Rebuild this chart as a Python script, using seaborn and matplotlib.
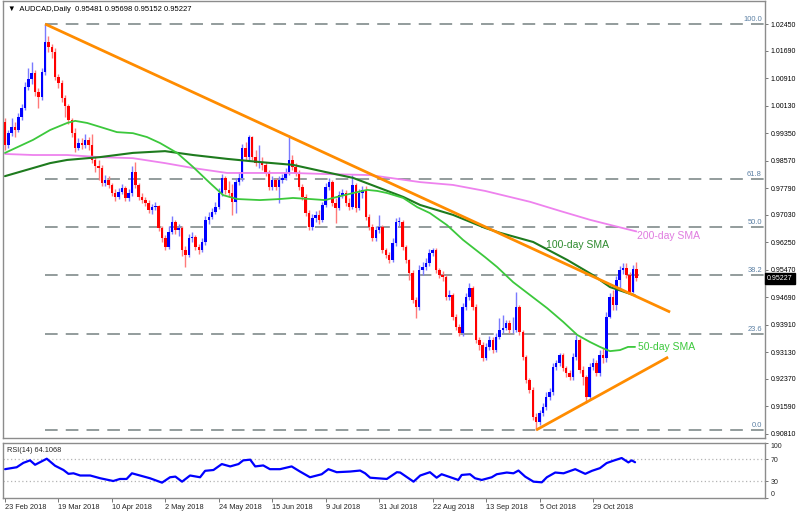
import numpy as np
import pandas as pd
import matplotlib
matplotlib.use("Agg")
import matplotlib.pyplot as plt
import matplotlib.transforms as mtransforms
import seaborn as sns

# ---------------- data ----------------
first_open = 0.9967
closes = [
    0.9901, 0.9935, 0.9953, 0.9944, 0.9981, 1.0006, 1.0066, 1.0089, 1.0106, 1.0052,
    1.0038, 1.0109, 1.0194, 1.0180, 1.0166, 1.0095, 1.0077, 1.0035, 1.0012, 0.9972,
    0.9935, 0.9893, 0.9907, 0.9901, 0.9916, 0.9901, 0.9859, 0.9842, 0.9836, 0.9793,
    0.9802, 0.9788, 0.9765, 0.9754, 0.9768, 0.9779, 0.9751, 0.9765, 0.9825, 0.9788,
    0.9754, 0.9745, 0.9737, 0.9717, 0.9725, 0.9728, 0.9666, 0.9637, 0.9612, 0.9654,
    0.9683, 0.9660, 0.9666, 0.9603, 0.9589, 0.9637, 0.9640, 0.9612, 0.9603, 0.9626,
    0.9688, 0.9697, 0.9711, 0.9725, 0.9765, 0.9808, 0.9774, 0.9765, 0.9740, 0.9796,
    0.9808, 0.9893, 0.9867, 0.9924, 0.9867, 0.9850, 0.9853, 0.9845, 0.9822, 0.9782,
    0.9802, 0.9782, 0.9802, 0.9808, 0.9822, 0.9859, 0.9839, 0.9822, 0.9782, 0.9754,
    0.9708, 0.9669, 0.9694, 0.9703, 0.9688, 0.9731, 0.9782, 0.9796, 0.9737, 0.9722,
    0.9759, 0.9765, 0.9737, 0.9725, 0.9788, 0.9722, 0.9765, 0.9774, 0.9697, 0.9669,
    0.9637, 0.9660, 0.9669, 0.9603, 0.9589, 0.9575, 0.9623, 0.9683, 0.9683, 0.9612,
    0.9575, 0.9538, 0.9461, 0.9441, 0.9546, 0.9555, 0.9566, 0.9595, 0.9603, 0.9546,
    0.9532, 0.9527, 0.9470, 0.9475, 0.9413, 0.9384, 0.9367, 0.9441, 0.9470, 0.9495,
    0.9441, 0.9348, 0.9333, 0.9297, 0.9328, 0.9348, 0.9319, 0.9356, 0.9376, 0.9382,
    0.9396, 0.9376, 0.9376, 0.9441, 0.9370, 0.9299, 0.9234, 0.9206, 0.9129, 0.9115,
    0.9140, 0.9157, 0.9186, 0.9200, 0.9271, 0.9282, 0.9305, 0.9268, 0.9254, 0.9243,
    0.9299, 0.9348, 0.9262, 0.9243, 0.9186, 0.9271, 0.9282, 0.9254, 0.9305, 0.9297,
    0.9413, 0.9470, 0.9447, 0.9518, 0.9546, 0.9552, 0.9532, 0.9484, 0.9548, 0.95227,
]
highs = [
    0.9978, 0.9944, 0.9978, 0.9967, 0.9992, 1.0018, 1.0080, 1.0120, 1.0137, 1.0114,
    1.0063, 1.0120, 1.0245, 1.0211, 1.0188, 1.0177, 1.0103, 1.0086, 1.0043, 1.0018,
    0.9978, 0.9950, 0.9921, 0.9921, 0.9933, 0.9924, 0.9933, 0.9867, 0.9859, 0.9845,
    0.9816, 0.9813, 0.9793, 0.9776, 0.9779, 0.9791, 0.9785, 0.9776, 0.9842, 0.9853,
    0.9793, 0.9765, 0.9754, 0.9745, 0.9734, 0.9740, 0.9731, 0.9671, 0.9646, 0.9671,
    0.9700, 0.9688, 0.9677, 0.9671, 0.9615, 0.9649, 0.9654, 0.9646, 0.9620, 0.9637,
    0.9700, 0.9711, 0.9722, 0.9740, 0.9779, 0.9819, 0.9813, 0.9799, 0.9791, 0.9808,
    0.9825, 0.9904, 0.9910, 0.9930, 0.9927, 0.9887, 0.9901, 0.9867, 0.9853, 0.9831,
    0.9813, 0.9808, 0.9813, 0.9819, 0.9836, 0.9930, 0.9873, 0.9850, 0.9831, 0.9791,
    0.9762, 0.9717, 0.9705, 0.9714, 0.9717, 0.9740, 0.9793, 0.9808, 0.9802, 0.9751,
    0.9771, 0.9776, 0.9774, 0.9751, 0.9816, 0.9793, 0.9776, 0.9785, 0.9785, 0.9705,
    0.9677, 0.9671, 0.9703, 0.9674, 0.9609, 0.9597, 0.9637, 0.9694, 0.9697, 0.9688,
    0.9617, 0.9578, 0.9546, 0.9470, 0.9561, 0.9569, 0.9580, 0.9606, 0.9609, 0.9609,
    0.9552, 0.9544, 0.9532, 0.9490, 0.9481, 0.9421, 0.9393, 0.9453, 0.9481, 0.9509,
    0.9501, 0.9450, 0.9356, 0.9342, 0.9339, 0.9359, 0.9356, 0.9367, 0.9410, 0.9419,
    0.9405, 0.9405, 0.9413, 0.9484, 0.9447, 0.9376, 0.9305, 0.9240, 0.9214, 0.9140,
    0.9149, 0.9169, 0.9200, 0.9211, 0.9282, 0.9291, 0.9311, 0.9311, 0.9274, 0.9262,
    0.9311, 0.9362, 0.9353, 0.9274, 0.9248, 0.9282, 0.9297, 0.9291, 0.9319, 0.9325,
    0.9427, 0.9481, 0.9490, 0.9529, 0.9558, 0.9566, 0.9566, 0.9541, 0.9561, 0.95698,
]
lows = [
    0.9887, 0.9893, 0.9927, 0.9924, 0.9938, 0.9972, 1.0001, 1.0058, 1.0075, 1.0041,
    1.0006, 1.0029, 1.0100, 1.0166, 1.0148, 1.0086, 1.0063, 1.0024, 0.9981, 0.9961,
    0.9924, 0.9882, 0.9887, 0.9890, 0.9893, 0.9887, 0.9850, 0.9825, 0.9802, 0.9785,
    0.9785, 0.9779, 0.9757, 0.9742, 0.9748, 0.9762, 0.9742, 0.9742, 0.9757, 0.9779,
    0.9745, 0.9737, 0.9728, 0.9708, 0.9705, 0.9717, 0.9657, 0.9626, 0.9603, 0.9606,
    0.9649, 0.9649, 0.9643, 0.9586, 0.9555, 0.9583, 0.9626, 0.9603, 0.9592, 0.9597,
    0.9617, 0.9677, 0.9691, 0.9705, 0.9720, 0.9757, 0.9762, 0.9754, 0.9703, 0.9708,
    0.9788, 0.9799, 0.9859, 0.9859, 0.9859, 0.9842, 0.9836, 0.9831, 0.9813, 0.9774,
    0.9774, 0.9774, 0.9737, 0.9793, 0.9802, 0.9816, 0.9831, 0.9813, 0.9774, 0.9745,
    0.9700, 0.9660, 0.9660, 0.9683, 0.9677, 0.9683, 0.9725, 0.9774, 0.9728, 0.9680,
    0.9717, 0.9751, 0.9728, 0.9717, 0.9720, 0.9711, 0.9717, 0.9751, 0.9688, 0.9660,
    0.9629, 0.9629, 0.9651, 0.9595, 0.9580, 0.9566, 0.9569, 0.9615, 0.9671, 0.9603,
    0.9566, 0.9518, 0.9453, 0.9410, 0.9433, 0.9532, 0.9546, 0.9558, 0.9586, 0.9538,
    0.9524, 0.9515, 0.9461, 0.9461, 0.9405, 0.9376, 0.9359, 0.9359, 0.9433, 0.9461,
    0.9433, 0.9339, 0.9319, 0.9288, 0.9291, 0.9319, 0.9311, 0.9314, 0.9350, 0.9367,
    0.9376, 0.9367, 0.9367, 0.9370, 0.9362, 0.9291, 0.9226, 0.9197, 0.9120, 0.9092,
    0.9106, 0.9132, 0.9149, 0.9177, 0.9191, 0.9262, 0.9274, 0.9260, 0.9243, 0.9234,
    0.9234, 0.9291, 0.9254, 0.9220, 0.9169, 0.9177, 0.9262, 0.9245, 0.9245, 0.9282,
    0.9285, 0.9410, 0.9433, 0.9433, 0.9490, 0.9535, 0.9524, 0.9478, 0.9481, 0.95152,
]

# moving averages (bar index, price)
sma50_bar = [0, 8.4, 13.5, 18.6, 21, 24.6, 28.4, 33.5, 38.3, 42.5, 46.4, 51.5, 56.3, 61.4,
             65.3, 69.5, 76.3, 82.3, 86.2, 91.3, 95.8, 99.4, 104.2, 108.4, 111.4, 114.4,
             119.2, 123.4, 127.2, 132.3, 137.1, 143.7, 147.3, 152.1, 157.2, 162.3, 167.1,
             171.3, 175.1, 178.1, 181.1, 184.1, 186.5, 188.6]
sma50_val = [0.9879, 0.9916, 0.9944, 0.9964, 0.9970, 0.9964, 0.9953, 0.9938, 0.9935, 0.9924,
             0.9907, 0.9879, 0.9839, 0.9793, 0.9759, 0.9748, 0.9745, 0.9748, 0.9751, 0.9748,
             0.9745, 0.9754, 0.9765, 0.9774, 0.9771, 0.9765, 0.9751, 0.9725, 0.9708, 0.9674,
             0.9632, 0.9583, 0.9555, 0.9512, 0.9475, 0.9438, 0.9399, 0.9362, 0.9342, 0.9328,
             0.9316, 0.9319, 0.9328, 0.9328]
sma100_bar = [0, 8.4, 13.5, 18.6, 28.4, 38.3, 47.9, 56.3, 66.5, 76.3, 86.2, 95.8, 104.2,
              111.4, 119.2, 124.3, 134.1, 143.7, 148.2, 158.1, 168.3, 176.0, 181.1, 188.6]
sma100_val = [0.9813, 0.9836, 0.9850, 0.9859, 0.9867, 0.9879, 0.9884, 0.9873, 0.9862, 0.9853,
              0.9845, 0.9825, 0.9808, 0.9782, 0.9754, 0.9731, 0.9703, 0.9666, 0.9652, 0.9626,
              0.9575, 0.9532, 0.9498, 0.9474]
sma200_bar = [0, 8.4, 18.6, 28.4, 38.3, 47.9, 56.3, 66.5, 76.3, 86.2, 95.8, 109.3, 124.3,
              134.1, 143.7, 157.2, 166.2, 175.1, 182.6, 189.0]
sma200_val = [0.9876, 0.9873, 0.9873, 0.9867, 0.9864, 0.9850, 0.9836, 0.9822, 0.9822, 0.9822,
              0.9819, 0.9816, 0.9796, 0.9788, 0.9771, 0.9740, 0.9714, 0.9689, 0.9671, 0.9656]

# RSI(14) (bar index, value)
rsi_bar = [0, 3.5, 5.5, 7.5, 9, 12.5, 15, 17.5, 19, 20.5, 22.5, 25.5, 28.5, 32.4, 34.4, 36.4,
           38, 40.4, 43.4, 47, 49.4, 51, 53, 55.4, 58.4, 59.9, 62.4, 64.9, 67.4, 69.9, 71.3,
           73.4, 74.9, 77.3, 79.3, 82.3, 85.8, 88.3, 91.3, 94.8, 96.8, 99.3, 103.3, 106.3,
           107.8, 109.3, 114.3, 117.3, 118.3, 122.3, 124.3, 127.2, 129.2, 130.7, 134.2,
           135.7, 136.7, 139.2, 140.7, 142.7, 145.7, 147.2, 150.2, 152.2, 153.7, 155.7,
           158.2, 160.7, 162.2, 164.7, 167.2, 170.7, 173.7, 175.7, 178.1, 180.1, 182.1,
           184.6, 186.6, 187.6, 188.6]
rsi_val = [51.5, 55, 63, 67.5, 59.5, 70.5, 57.7, 50, 43, 44, 40, 40, 35, 30, 33.7, 33.7,
           44, 40, 35, 27, 36.8, 38, 28.8, 40, 36.8, 48.5, 50, 60.8, 56.5, 60.8, 67.5,
           68.8, 56.5, 58.3, 51.5, 51.5, 56.5, 47.2, 36.8, 42.3, 51.5, 46, 47.2, 49,
           44, 36, 33.7, 46, 45.4, 28.8, 40, 46, 36, 42.3, 35,
           31.9, 41, 42.3, 35, 31.9, 36.8, 42.3, 45.4, 44, 49, 38,
           28.8, 27.6, 36.8, 45.4, 44, 51.5, 43, 48.5, 53.4, 62.6, 66.9,
           71.8, 63.8, 67.5, 64.1068]

# drawn objects
trend_hi_bar = [12, 199.1]
trend_hi_val = [1.0245, 0.9427]
trend_lo_bar = [159, 198.5]
trend_lo_val = [0.9092, 0.9299]
fib_high = 1.0245
fib_low = 0.9092
fib_levels = [0.0, 23.6, 38.2, 50.0, 61.8, 100.0]
fib_start_bar = 12

price_ticks = [1.02450, 1.01690, 1.00910, 1.00130, 0.99350, 0.98570, 0.97790, 0.97030,
               0.96250, 0.95470, 0.94690, 0.93910, 0.93130, 0.92370, 0.91590, 0.90810]
date_bars = [0, 16, 32, 48, 64, 80, 96, 112, 128, 144, 160, 176]
date_labels = ["23 Feb 2018", "19 Mar 2018", "10 Apr 2018", "2 May 2018", "24 May 2018",
               "15 Jun 2018", "9 Jul 2018", "31 Jul 2018", "22 Aug 2018", "13 Sep 2018",
               "5 Oct 2018", "29 Oct 2018"]
header = "\u25bc  AUDCAD,Daily  0.95481 0.95698 0.95152 0.95227"
last_price = 0.95227

# ---------------- figure ----------------
sns.set_theme(style="white")
plt.rcParams["font.family"] = ["Liberation Sans", "DejaVu Sans"]

W, H = 800, 514
fig = plt.figure(figsize=(8.0, 5.14), dpi=100)
fig.patch.set_facecolor("white")


def rect(x0, y0, x1, y1):
    return [x0 / W, 1 - y1 / H, (x1 - x0) / W, (y1 - y0) / H]


ax = fig.add_axes(rect(3, 1, 765, 438))
axr = fig.add_axes(rect(3, 442.5, 765, 497.5))
XL = (-0.6, 227.5)

# candles
c = np.array(closes)
o = np.array([first_open] + closes[:-1])
hi = np.maximum.reduce([np.array(highs), o, c])
lo = np.minimum.reduce([np.array(lows), o, c])
x = np.arange(len(c))
up = c >= o
body_col = np.where(up, "#0000ff", "#ff0000")
wick_col = np.where(up, "#7a7aff", "#ff7a7a")

# fibonacci levels
fib_prices = [fib_low + lv / 100.0 * (fib_high - fib_low) for lv in fib_levels]
ax.hlines(fib_prices, fib_start_bar, XL[1], colors="#8a9494", linestyles=(0, (7, 4.5)),
          linewidth=1.3, zorder=1)
for lv, pr in zip(fib_levels, fib_prices):
    ax.text(226.6, pr + 0.0002, f"{lv:.1f}", ha="right", va="bottom", fontsize=5.4,
            color="#5a7fa3", zorder=6)

ax.vlines(x, lo, hi, colors=wick_col, linewidth=1.0, zorder=2)
ax.bar(x, np.maximum(np.abs(c - o), 0.00012), bottom=np.minimum(o, c), width=0.74,
       color=body_col, linewidth=0, zorder=3)

# moving averages
sns.lineplot(x=sma200_bar, y=sma200_val, ax=ax, color="#ee82ee", linewidth=1.3,
             sort=False, estimator=None, zorder=4)
sns.lineplot(x=sma100_bar, y=sma100_val, ax=ax, color="#1e7b1e", linewidth=1.5,
             sort=False, estimator=None, zorder=4)
sns.lineplot(x=sma50_bar, y=sma50_val, ax=ax, color="#3cc83c", linewidth=1.3,
             sort=False, estimator=None, zorder=4)

# trend lines
ax.plot(trend_hi_bar, trend_hi_val, color="#ff8c00", linewidth=2.0, zorder=5,
        solid_capstyle="butt")
ax.plot(trend_lo_bar, trend_lo_val, color="#ff8c00", linewidth=2.0, zorder=5,
        solid_capstyle="butt")

# annotations
ax.text(171.3, 0.9618, "100-day SMA", color="#2e8b2e", fontsize=7.5, ha="center",
        va="center", zorder=6)
ax.text(189.3, 0.9643, "200-day SMA", color="#e07be0", fontsize=7.5, ha="left",
        va="center", zorder=6)
ax.text(189.5, 0.9328, "50-day SMA", color="#3cc83c", fontsize=7.5, ha="left",
        va="center", zorder=6)

ax.set_xlim(*XL)
ax.set_ylim(0.90693, 1.03104)
ax.set_xticks([])
ax.yaxis.tick_right()
ax.set_yticks(price_ticks)
ax.set_yticklabels([f"{v:.5f}" for v in price_ticks])
ax.tick_params(axis="y", labelsize=5, length=2, width=0.6, color="#606060", pad=2,
               labelcolor="black", right=True, left=False)
ax.set_xlabel("")
ax.set_ylabel("")

blend = mtransforms.blended_transform_factory(ax.transAxes, ax.transData)
ax.text(1.0025, last_price, f"{last_price:.5f}", transform=blend, color="white", fontsize=5,
        ha="left", va="center", zorder=10, clip_on=False,
        bbox=dict(boxstyle="square,pad=0.3", fc="black", ec="black"))

fig.text(8 / W, 1 - 9.5 / H, header, fontsize=5.5, color="black", va="center", ha="left")

# RSI pane
axr.hlines([30, 70], XL[0], XL[1], colors="#b4b4b4", linestyles=(0, (1, 2)), linewidth=0.9)
sns.lineplot(x=rsi_bar, y=rsi_val, ax=axr, color="#0000ff", linewidth=1.6, sort=False,
             estimator=None)
axr.set_xlim(*XL)
axr.set_ylim(0, 100)
axr.yaxis.tick_right()
axr.set_yticks([0, 30, 70, 100])
axr.set_yticklabels(["0", "30", "70", "100"])
axr.tick_params(axis="y", labelsize=5, length=2, width=0.6, color="#606060", pad=2,
                right=True, left=False)
for lab in axr.get_yticklabels():
    if lab.get_text() == "100":
        lab.set_va("top")
    elif lab.get_text() == "0":
        lab.set_va("bottom")
axr.set_xticks(date_bars)
axr.set_xticklabels(date_labels, ha="left", fontsize=5.3)
axr.tick_params(axis="x", length=3, width=0.6, color="#606060", pad=1.5, bottom=True)
axr.set_xlabel("")
axr.set_ylabel("")
axr.text(0.005, 0.86, "RSI(14) 64.1068", transform=axr.transAxes, fontsize=5.3,
         va="center", ha="left")

for a in (ax, axr):
    a.set_facecolor("white")
    for s in a.spines.values():
        s.set_color("#8c8c8c")
        s.set_linewidth(1.0)
    a.grid(False)

fig.savefig("out.png", dpi=100, facecolor="white")
